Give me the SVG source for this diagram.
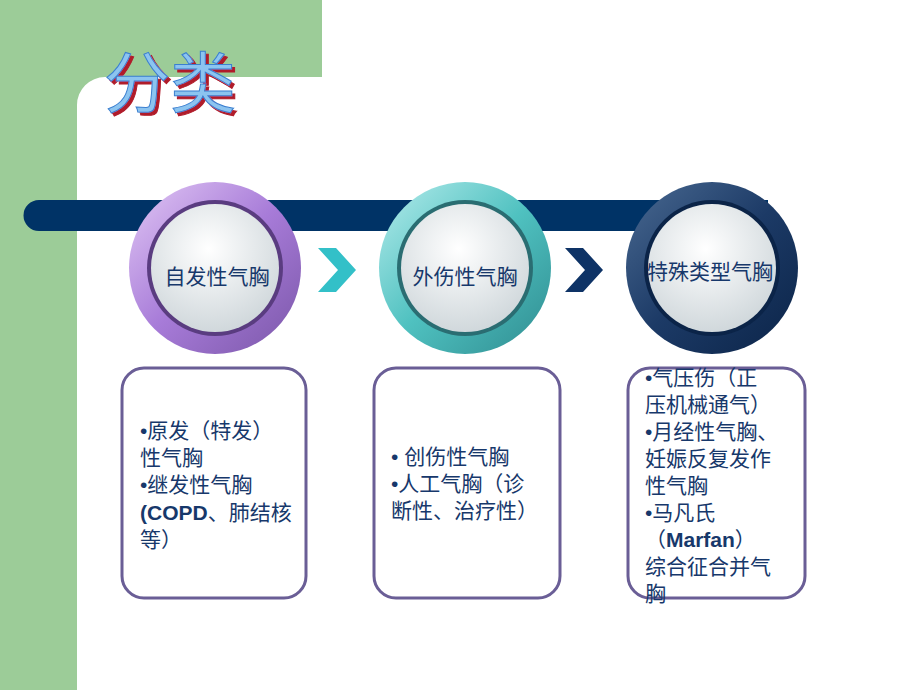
<svg xmlns="http://www.w3.org/2000/svg" width="920" height="690" viewBox="0 0 920 690">
<style>
.t{font-family:"Liberation Sans","Noto Sans CJK SC",sans-serif;fill:#17386b;font-size:21px}
.c{font-family:"Liberation Sans","Noto Sans CJK SC",sans-serif;fill:#17386b;font-size:21px;text-anchor:middle}
.box{fill:#fff;stroke:#6a5e96;stroke-width:3}
</style>
<defs>
<filter id="sh" x="-10%" y="-10%" width="130%" height="130%"><feDropShadow dx="3" dy="3" stdDeviation="0" flood-color="#b01e2a"/></filter>
<radialGradient id="inner" cx="0.45" cy="0.35" r="0.7"><stop offset="0" stop-color="#ffffff"/><stop offset="1" stop-color="#cdd5d9"/></radialGradient>
<linearGradient id="pur" x1="0" y1="0" x2="1" y2="1"><stop offset="0" stop-color="#e2c8f5"/><stop offset="0.5" stop-color="#a77bd8"/><stop offset="1" stop-color="#7a56a8"/></linearGradient>
<linearGradient id="tea" x1="0" y1="0" x2="1" y2="1"><stop offset="0" stop-color="#b5ecec"/><stop offset="0.5" stop-color="#4fc1c0"/><stop offset="1" stop-color="#2f8c90"/></linearGradient>
<linearGradient id="nav" x1="0" y1="0" x2="1" y2="1"><stop offset="0" stop-color="#4a6a92"/><stop offset="0.5" stop-color="#1c3a66"/><stop offset="1" stop-color="#0b2448"/></linearGradient>
</defs>
<rect width="920" height="690" fill="#fff"/>
<rect x="0" y="0" width="77" height="690" fill="#9ccc98"/>
<rect x="0" y="0" width="322" height="77" fill="#9ccc98"/>
<path d="M77 77 H105 A28 28 0 0 0 77 105 Z" fill="#9ccc98"/>
<text x="104" y="107" font-family="Liberation Serif,'Noto Sans CJK SC',serif" font-size="66" fill="#8cc4f0" stroke="#3a7fd0" stroke-width="1" filter="url(#sh)">分类</text>
<path d="M39 200 H768 V231 H39 A15.5 15.5 0 0 1 39 200 Z" fill="#003366"/>
<g id="n1"><circle cx="215" cy="268" r="86" fill="url(#pur)"/><circle cx="215" cy="268" r="68" fill="#5a3c80"/><circle cx="215" cy="268" r="64" fill="url(#inner)"/><text class="c" x="217" y="284">自发性气胸</text></g>
<g id="n2"><circle cx="465" cy="268" r="86" fill="url(#tea)"/><circle cx="465" cy="268" r="68" fill="#2a6d72"/><circle cx="465" cy="268" r="64" fill="url(#inner)"/><text class="c" x="465" y="284">外伤性气胸</text></g>
<g id="n3"><circle cx="712" cy="268" r="86" fill="url(#nav)"/><circle cx="712" cy="268" r="68" fill="#0b2448"/><circle cx="712" cy="268" r="64" fill="url(#inner)"/><text class="c" x="710" y="279" font-size="19">特殊类型气胸</text></g>
<g id="connectors">
<path d="M318 248 H336 L356 270 L336 292 H318 L338 270 Z" fill="#33c0c8"/>
<path d="M565 248 H583 L603 270 L583 292 H565 L585 270 Z" fill="#0e3366"/>
</g>
<g id="b1"><rect class="box" x="122" y="368" width="184" height="230" rx="22"/>
<text class="t"><tspan x="140" y="438">•原发（特发）</tspan><tspan x="140" y="465">性气胸</tspan><tspan x="140" y="492">•继发性气胸</tspan><tspan x="140" y="520" font-weight="bold">(COPD</tspan><tspan>、肺结核</tspan><tspan x="140" y="547">等）</tspan></text></g>
<g id="b2"><rect class="box" x="374" y="368" width="186" height="230" rx="22"/>
<text class="t"><tspan x="391" y="464">• 创伤性气胸</tspan><tspan x="391" y="491">•人工气胸（诊</tspan><tspan x="391" y="518">断性、治疗性）</tspan></text></g>
<g id="b3"><rect class="box" x="628" y="368" width="177" height="230" rx="22"/>
<text class="t"><tspan x="645" y="385">•气压伤（正</tspan><tspan x="645" y="412">压机械通气）</tspan><tspan x="645" y="439">•月经性气胸、</tspan><tspan x="645" y="466">妊娠反复发作</tspan><tspan x="645" y="493">性气胸</tspan><tspan x="645" y="520">•马凡氏</tspan><tspan x="645" y="547">（</tspan><tspan font-weight="bold">Marfan</tspan><tspan>）</tspan><tspan x="645" y="574">综合征合并气</tspan><tspan x="645" y="601">胸</tspan></text></g>
</svg>
